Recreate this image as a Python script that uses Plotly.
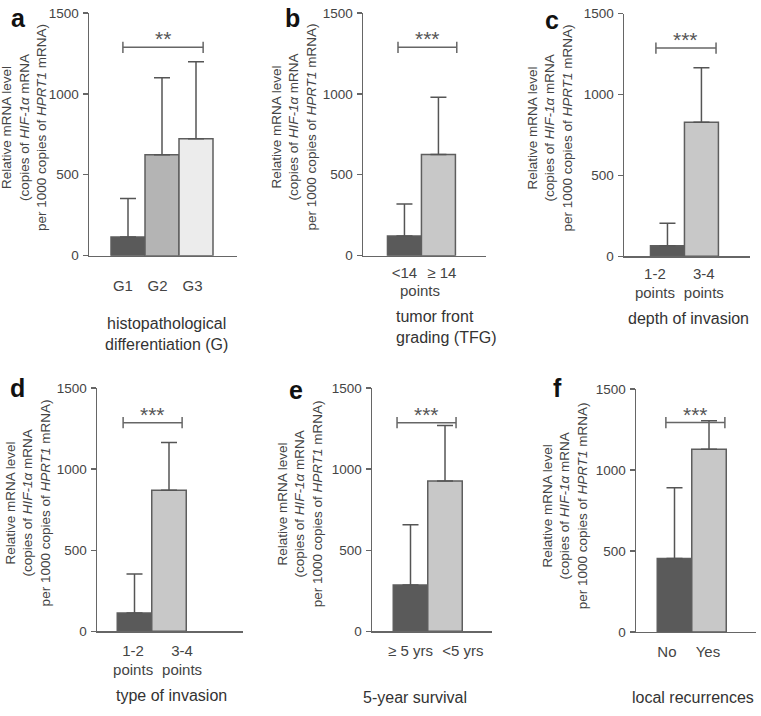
import plotly.graph_objects as go

W, H = 761, 716

# ---------------- data ----------------
cats_a = ["G1", "G2", "G3"]
mean_a = [115, 623, 722]
sd_a = [238, 476, 476]

cats_b = ["<14", "≥ 14"]
mean_b = [121, 625]
sd_b = [199, 353]

cats_c = ["1-2<br>points", "3-4<br>points"]
mean_c = [65, 828]
sd_c = [140, 337]

cats_d = ["1-2<br>points", "3-4<br>points"]
mean_d = [113, 870]
sd_d = [240, 294]

cats_e = ["≥ 5 yrs", "<5 yrs"]
mean_e = [286, 927]
sd_e = [371, 342]

cats_f = ["No", "Yes"]
mean_f = [453, 1127]
sd_f = [437, 176]

sig_labels = ["**", "***", "***", "***", "***", "***"]
sig_level = [1287, 1287, 1287, 1287, 1287, 1292]
# bracket ends (in bar-index units)
sig_from = [-0.15, -0.19, -0.34, -0.33, -0.39, -0.25]
sig_to = [2.21, 1.54, 1.43, 1.38, 1.32, 1.46]

y_ticks = [0, 500, 1000, 1500]
panel_letters = ["a", "b", "c", "d", "e", "f"]
x_titles = [
    "histopathological<br>differentiation (G)",
    "tumor front<br>grading (TFG)",
    "depth of invasion",
    "type of invasion",
    "5-year survival",
    "local recurrences",
]
y_title = ("Relative mRNA level<br>(copies of <i>HIF-1α</i> mRNA<br>"
           "per 1000 copies of <i>HPRT1</i> mRNA)")

# ---------------- styling / layout ----------------
DARK = "#5a5a5a"
MID = "#b4b4b4"
PALE = "#ececec"
LIGHT = "#c8c8c8"
EDGE = "#5e5e5e"
AX = "#666666"
TXT = "#444444"
FONT = "Liberation Sans, Arial, sans-serif"

panels = [
    dict(cats=cats_a, mean=mean_a, sd=sd_a, colors=[DARK, MID, PALE],
         xpx=(89, 237), ypx=(6, 254), xr=(-1.147, 3.206),
         tickpos=[-0.15, 0.87, 1.9], standoff=16,
         ytitle=(24.5, 123), letter=(18, 11), xtitle=(166, 334, "center")),
    dict(cats=cats_b, mean=mean_b, sd=sd_b, colors=[DARK, LIGHT],
         xpx=(363, 486), ypx=(6, 254), xr=(-1.22, 2.40),
         tickpos=[0.0, 1.1], standoff=3,
         ytitle=(294, 123), letter=(292, 11), xtitle=(394, 327, "left")),
    dict(cats=cats_c, mean=mean_c, sd=sd_c, colors=[DARK, LIGHT],
         xpx=(624, 750), ypx=(6.7, 254.7), xr=(-1.28, 2.43),
         tickpos=[-0.37, 1.07], standoff=3,
         ytitle=(550, 124), letter=(552, 13), xtitle=(688, 318, "center")),
    dict(cats=cats_d, mean=mean_d, sd=sd_d, colors=[DARK, LIGHT],
         xpx=(97, 243), ypx=(389.3, 637.7), xr=(-1.087, 3.145),
         tickpos=[-0.04, 1.38], standoff=5,
         ytitle=(28, 507), letter=(17, 389), xtitle=(171, 703, "center")),
    dict(cats=cats_e, mean=mean_e, sd=sd_e, colors=[DARK, LIGHT],
         xpx=(372, 492), ypx=(389.3, 637.7), xr=(-1.116, 2.362),
         tickpos=[0.0, 1.52], standoff=5,
         ytitle=(300, 508), letter=(296, 391), xtitle=(415, 705, "center")),
    dict(cats=cats_f, mean=mean_f, sd=sd_f, colors=[DARK, LIGHT],
         xpx=(636, 756), ypx=(390, 638.3), xr=(-1.116, 2.362),
         tickpos=[-0.22, 0.97], standoff=6,
         ytitle=(565, 510), letter=(557, 389), xtitle=(693, 705, "center")),
]


def esc(s):
    return s.replace("<14", "&lt;14").replace("<5", "&lt;5")


fig = go.Figure()
layout = dict(
    width=W, height=H, margin=dict(l=0, r=0, t=0, b=0),
    paper_bgcolor="white", plot_bgcolor="white",
    showlegend=False, bargap=0, font=dict(family=FONT, color=TXT),
)
annotations = []

for i, p in enumerate(panels):
    k = "" if i == 0 else str(i + 1)
    xa, ya = "x" + k, "y" + k
    idx = list(range(len(p["cats"])))
    fig.add_trace(go.Bar(
        x=idx, y=p["mean"], width=1, xaxis=xa, yaxis=ya,
        marker=dict(color=p["colors"], line=dict(color=EDGE, width=1.5)),
        error_y=dict(type="data", array=p["sd"], arrayminus=[0] * len(idx),
                     symmetric=False, color="#555555", thickness=1.5, width=8),
        hoverinfo="skip",
    ))
    # significance bracket
    fig.add_trace(go.Scatter(
        x=[sig_from[i], sig_to[i]], y=[sig_level[i], sig_level[i]],
        xaxis=xa, yaxis=ya, mode="lines+markers",
        line=dict(color="#666666", width=1.5),
        marker=dict(symbol="line-ns", size=8, line=dict(color="#666666", width=1.5)),
        hoverinfo="skip", cliponaxis=False,
    ))
    annotations.append(dict(
        x=(sig_from[i] + sig_to[i]) / 2, y=sig_level[i], xref=xa, yref=ya,
        text=sig_labels[i], showarrow=False, yanchor="bottom", yshift=-5,
        font=dict(size=21, color="#555555", family=FONT),
    ))

    x0, x1 = p["xpx"]
    y0, y1 = p["ypx"]
    layout["xaxis" + k] = dict(
        domain=[x0 / W, x1 / W], anchor=ya, range=list(p["xr"]),
        showline=True, linecolor=AX, linewidth=1.5, showgrid=False,
        zeroline=False, ticks="", tickmode="array", tickvals=p["tickpos"],
        ticktext=[esc(c) for c in p["cats"]], ticklabelstandoff=p["standoff"],
        tickfont=dict(size=15, color=TXT, family=FONT), fixedrange=True,
    )
    layout["yaxis" + k] = dict(
        domain=[1 - y1 / H, 1 - y0 / H], anchor=xa, range=[0, 1500],
        showline=True, linecolor=AX, linewidth=1.5, showgrid=False,
        zeroline=False, ticks="outside", ticklen=5, tickwidth=1.5,
        tickcolor=AX, tickvals=y_ticks, ticklabelstandoff=1,
        tickfont=dict(size=13.5, color=TXT, family=FONT), fixedrange=True,
    )
    # y title
    tx, ty = p["ytitle"]
    annotations.append(dict(
        x=tx / W, y=1 - ty / H, xref="paper", yref="paper", text=y_title,
        textangle=-90, showarrow=False, xanchor="center", yanchor="middle",
        font=dict(size=13.5, color=TXT, family=FONT), borderpad=0,
    ))
    # panel letter
    lx, ly = p["letter"]
    annotations.append(dict(
        x=lx / W, y=1 - ly / H, xref="paper", yref="paper",
        text="<b>%s</b>" % panel_letters[i], showarrow=False,
        xanchor="center", yanchor="middle",
        font=dict(size=25, color="#111111", family=FONT),
    ))
    # x title
    gx, gy, al = p["xtitle"]
    annotations.append(dict(
        x=gx / W, y=1 - gy / H, xref="paper", yref="paper", text=x_titles[i],
        showarrow=False, xanchor=al, yanchor="middle", align=al,
        font=dict(size=16, color="#333333", family=FONT),
    ))

# shared "points" label under panel b
annotations.append(dict(
    x=0.45, y=1 - 290 / H, xref="x2", yref="paper",
    text="points", showarrow=False, xanchor="center", yanchor="middle",
    font=dict(size=15, color=TXT, family=FONT),
))

layout["annotations"] = annotations
fig.update_layout(**layout)
fig.write_html(
    "out.html",
    config={"displayModeBar": False, "staticPlot": True},
    post_script="document.body.style.margin='0px';document.body.style.overflow='hidden';",
)
